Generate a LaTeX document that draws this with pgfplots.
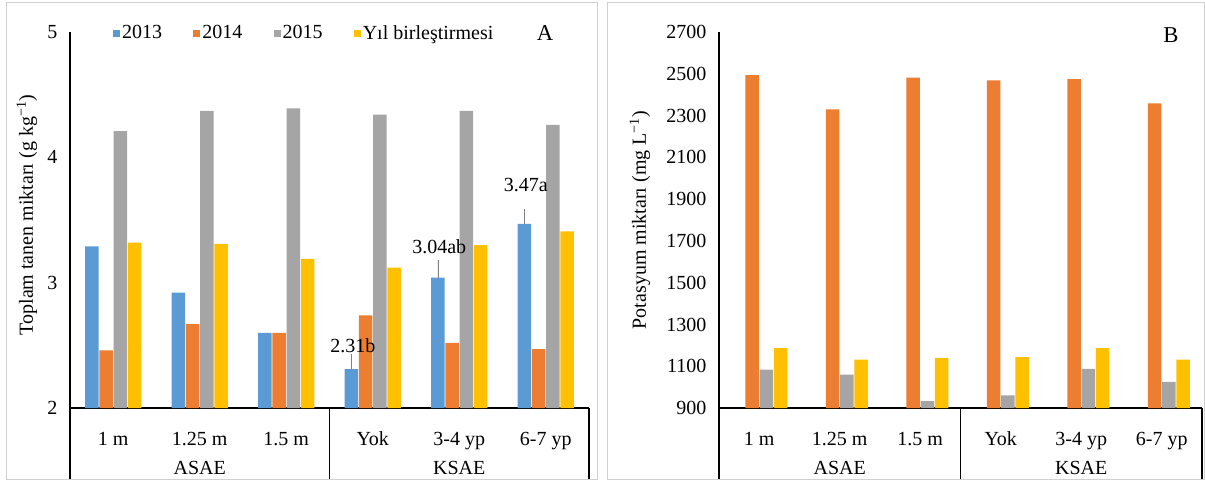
\documentclass[border=0pt]{standalone}
\usepackage{fontspec}
\setmainfont{Liberation Serif}
\usepackage{pgfplots}
\pgfplotsset{compat=1.18}
\usepackage{pgfplotstable}

\definecolor{cA}{HTML}{5B9BD5}
\definecolor{cB}{HTML}{ED7D31}
\definecolor{cC}{HTML}{A5A5A5}
\definecolor{cD}{HTML}{FFC000}
\newcommand\f{\fontsize{15}{18}\selectfont}

\pgfplotstableread{
x y2013 e2013 y2014 y2015 yYil
0 3.29 0 2.46 4.21 3.32
1 2.92 0 2.67 4.37 3.31
2 2.60 0 2.60 4.39 3.19
3 2.31 0.12 2.74 4.34 3.12
4 3.04 0.14 2.52 4.37 3.30
5 3.47 0.12 2.47 4.26 3.41
}\tanen

\pgfplotstableread{
x y2014 y2015 yYil
0 2493 1084 1187
1 2329 1060 1132
2 2482 933 1140
3 2469 960 1144
4 2475 1087 1187
5 2358 1025 1132
}\potas

\pgfplotsset{mystyle/.style={
  scale only axis, ybar, height=282pt, xmin=-0.5, xmax=5.5,
  axis x line*=bottom, axis y line*=left,
  axis line style={black, line width=0.9pt},
  xtick={0,...,5}, xticklabels={1 m,1.25 m,1.5 m,Yok,3-4 yp,6-7 yp},
  major tick length=0pt,
  xticklabel style={anchor=base, yshift=-27.75pt, font=\f},
  yticklabel style={font=\f, xshift=-6pt},
  /pgf/number format/assume math mode=true,
  /pgf/number format/1000 sep={},
  bar width=10.1pt,
}}

\begin{document}
\begin{tikzpicture}[x=0.75pt,y=0.75pt]
\useasboundingbox (0,0) rectangle (1205,483);
\draw[black!18, line width=0.75pt] (6,4) rectangle (597,480);
\draw[black!18, line width=0.75pt] (607,4) rectangle (1204,480);

\begin{axis}[mystyle, at={(52.5pt,56.25pt)}, anchor=south west, width=389.25pt,
  ymin=2, ymax=5, ytick={2,3,4,5},
  legend columns=4,
  legend image code/.code={\fill[#1] (0pt,-2.6pt) rectangle (5.2pt,2.6pt);},
  legend style={draw=none, fill=none, inner sep=0pt, outer sep=0pt, font=\f,
    at={(rel axis cs:0.083,0.997)}, anchor=west,
    nodes={inner sep=1.5pt},
    /tikz/every even column/.append style={column sep=22pt}},
  ]
\addplot[fill=cA, draw=none, bar shift=-15.98pt,
  error bars/.cd, y dir=plus, y explicit, error mark=none,
  error bar style={color=black!50, line width=0.6pt}]
  table[x=x, y=y2013, y error=e2013]{\tanen};
\addplot[fill=cB, draw=none, bar shift=-5.33pt] table[x=x, y=y2014]{\tanen};
\addplot[fill=cC, draw=none, bar shift=5.33pt] table[x=x, y=y2015]{\tanen};
\addplot[fill=cD, draw=none, bar shift=15.98pt] table[x=x, y=yYil]{\tanen};
\legend{2013,2014,2015,Yıl birleştirmesi}
\node[font=\f, xshift=-15pt] at (axis cs:3,2.50) {2.31b};
\node[font=\f, xshift=-15pt] at (axis cs:4,3.285) {3.04ab};
\node[font=\f, xshift=-15pt] at (axis cs:5,3.78) {3.47a};
\end{axis}

\begin{axis}[mystyle, at={(539.25pt,56.25pt)}, anchor=south west, width=362.25pt,
  ymin=900, ymax=2700, ytick={900,1100,...,2700}]
\addplot[fill=cB, draw=none, bar shift=-5.33pt] table[x=x, y=y2014]{\potas};
\addplot[fill=cC, draw=none, bar shift=5.33pt] table[x=x, y=y2015]{\potas};
\addplot[fill=cD, draw=none, bar shift=15.98pt] table[x=x, y=yYil]{\potas};
\end{axis}

% multi-level category table lines
\draw[black, line width=0.9pt] (70,75) -- (70,4) (329.5,75) -- (329.5,4) (589,75) -- (589,4);
\draw[black, line width=0.9pt] (719,75) -- (719,4) (960.5,75) -- (960.5,4) (1202,75) -- (1202,4);
\node[font=\f, anchor=base] at (199.75,9) {ASAE};
\node[font=\f, anchor=base] at (459.25,9) {KSAE};
\node[font=\f, anchor=base] at (839.75,9) {ASAE};
\node[font=\f, anchor=base] at (1081.25,9) {KSAE};

% axis titles
\node[font=\f, rotate=90] at (27,268) {Toplam tanen miktarı (g kg\textsuperscript{−1})};
\node[font=\f, rotate=90] at (640,263) {Potasyum miktarı (mg L\textsuperscript{−1})};
\node[font=\fontsize{17}{19}\selectfont] at (545,450) {A};
\node[font=\fontsize{17}{19}\selectfont] at (1171,448) {B};
\end{tikzpicture}
\end{document}
